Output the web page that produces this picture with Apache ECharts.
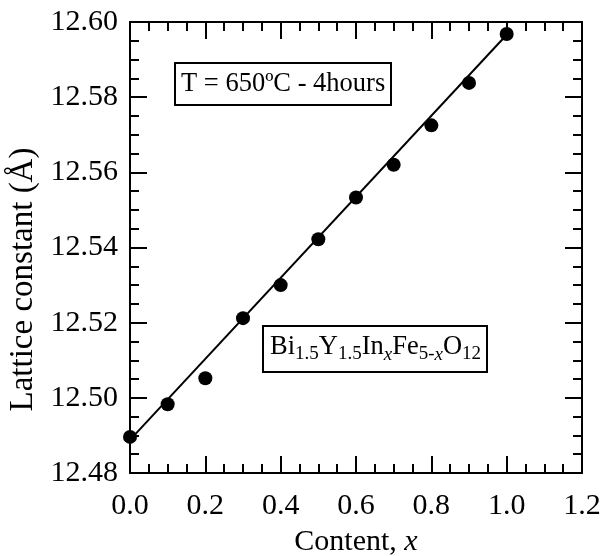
<!DOCTYPE html>
<html>
<head>
<meta charset="utf-8">
<script src="https://cdn.jsdelivr.net/npm/echarts@6/dist/echarts.min.js"></script>
<style>html,body{margin:0;padding:0;background:#fff}#c{width:605px;height:556px}</style>
</head>
<body>
<div id="c"></div>
<script>
const content = [0.0, 0.1, 0.2, 0.3, 0.4, 0.5, 0.6, 0.7, 0.8, 0.9, 1.0];
const latticeConst = [12.4896, 12.4983, 12.5052, 12.5212, 12.5300, 12.5422, 12.5533, 12.5620, 12.5725, 12.5838, 12.5968];
const fitX = [0.0, 1.0];
const fitY = [12.4888, 12.5966];
const xTicks = { min: 0, max: 1.2, interval: 0.2 };
const yTicks = { min: 12.48, max: 12.60, interval: 0.02 };

const FONT = 'Liberation Serif';
const INK = '#000000';
const chart = echarts.init(document.getElementById('c'), null, { renderer: 'canvas' });

function axisBase(extra) {
  return Object.assign({
    type: 'value',
    axisLine: { show: true, onZero: false, lineStyle: { color: INK, width: 2 } },
    axisTick: { show: true, inside: true, length: 17, lineStyle: { color: INK, width: 2 } },
    minorTick: { show: true, splitNumber: 4, length: 9, lineStyle: { color: INK, width: 2 } },
    splitLine: { show: false },
    minorSplitLine: { show: false }
  }, extra);
}

const option = {
  backgroundColor: '#fff',
  animation: false,
  grid: { left: 130, right: 23, top: 22, bottom: 83, containLabel: false, outerBoundsMode: 'none' },
  title: [
    {
      text: 'T = 650ºC - 4hours',
      left: 175, top: 63,
      padding: [8, 6, 7, 6],
      borderColor: INK, borderWidth: 2,
      textStyle: { fontFamily: FONT, fontSize: 26.5, fontWeight: 'normal', color: INK }
    },
    {
      text: '{n|Bi}{s|1.5}{n|Y}{s|1.5}{n|In}{si|x}{n|Fe}{s|5-}{si|x}{n|O}{s|12}',
      left: 263, top: 323,
      padding: [4, 6, 8, 7],
      borderColor: INK, borderWidth: 2,
      textStyle: {
        fontFamily: FONT, fontSize: 26.5, fontWeight: 'normal', color: INK,
        rich: {
          n: { fontFamily: FONT, fontSize: 26.5, color: INK, lineHeight: 40, verticalAlign: 'middle' },
          s: { fontFamily: FONT, fontSize: 19, color: INK, lineHeight: 40, padding: [15, 0, 0, 0] },
          si: { fontFamily: FONT, fontSize: 19, fontStyle: 'italic', color: INK, lineHeight: 40, padding: [15, 0, 0, 0] }
        }
      }
    }
  ],
  xAxis: [
    axisBase({
      position: 'bottom', min: xTicks.min, max: xTicks.max, interval: xTicks.interval,
      axisLabel: { show: true, margin: 18, fontFamily: FONT, fontSize: 30, color: INK,
        formatter: v => v.toFixed(1) },
      name: '{a|Content, }{b|x}',
      nameLocation: 'middle', nameGap: 54,
      nameTextStyle: { fontFamily: FONT, fontSize: 30, color: INK,
        rich: { a: { fontFamily: FONT, fontSize: 30, color: INK },
                b: { fontFamily: FONT, fontSize: 30, fontStyle: 'italic', color: INK } } }
    }),
    axisBase({
      position: 'top', min: xTicks.min, max: xTicks.max, interval: xTicks.interval,
      axisLabel: { show: false }
    })
  ],
  yAxis: [
    axisBase({
      position: 'left', min: yTicks.min, max: yTicks.max, interval: yTicks.interval,
      axisLabel: { show: true, margin: 12, fontFamily: FONT, fontSize: 30, color: INK,
        formatter: v => v.toFixed(2) },
      name: 'Lattice constant (Å)',
      nameLocation: 'middle', nameGap: 84,
      nameTextStyle: { fontFamily: FONT, fontSize: 33, color: INK, padding: [0, 64, 0, 0] }
    }),
    axisBase({
      position: 'right', min: yTicks.min, max: yTicks.max, interval: yTicks.interval,
      axisLabel: { show: false }
    })
  ],
  series: [
    {
      type: 'line',
      data: fitX.map((x, i) => [x, fitY[i]]),
      showSymbol: false, symbol: 'none',
      lineStyle: { color: INK, width: 2 },
      z: 2
    },
    {
      type: 'scatter',
      data: content.map((x, i) => [x, latticeConst[i]]),
      symbol: 'circle', symbolSize: 14,
      itemStyle: { color: INK, opacity: 1 },
      z: 3
    }
  ]
};
chart.setOption(option);
</script>
</body>
</html>
